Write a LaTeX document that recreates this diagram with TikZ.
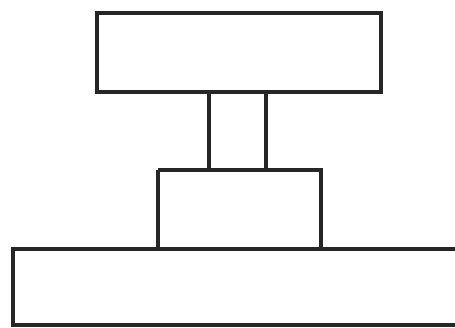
\documentclass[tikz,border=0pt]{standalone}
\begin{document}
\begin{tikzpicture}[x=1pt,y=-1pt,
  part/.style={draw=black!85,line width=4.5pt,line join=miter}]
\useasboundingbox (0,0) rectangle (455,327);
\clip (0,0) rectangle (455,327);
% top plate
\draw[part] (97,13) rectangle (381,92);
% stem
\draw[part] (209,92) -- (209,170);
\draw[part] (266,92) -- (266,170);
% middle block
\draw[part] (158,170) -- (158,249) (321,249) -- (321,170) -- (158,170);
% base
\draw[part] (13,249) rectangle (462,325);
\end{tikzpicture}
\end{document}
